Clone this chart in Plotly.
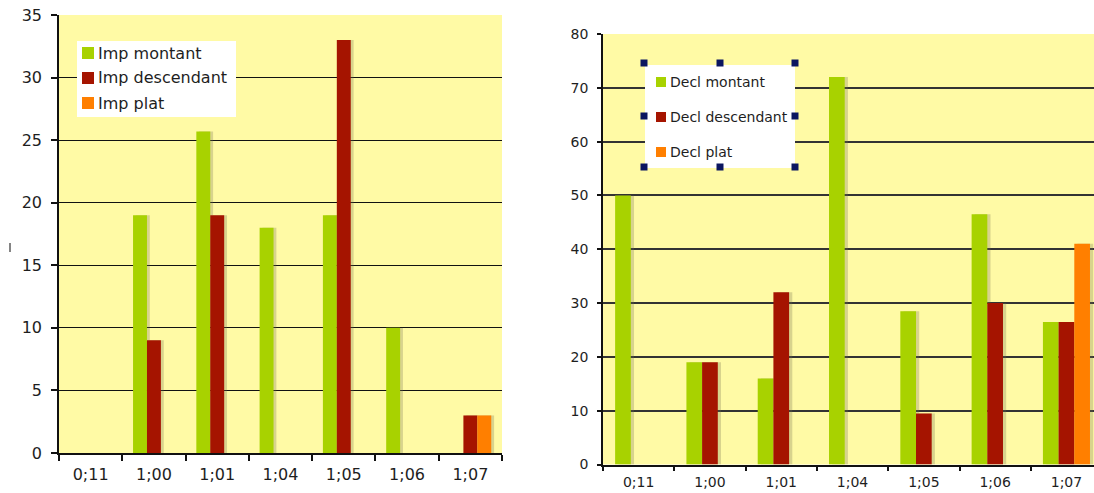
import plotly.graph_objects as go

# ---- data ----
categories = ["0;11", "1;00", "1;01", "1;04", "1;05", "1;06", "1;07"]

imp_names = ["Imp montant", "Imp descendant", "Imp plat"]
imp_montant = [0, 19, 25.7, 18, 19, 10, 0]
imp_descendant = [0, 9, 19, 0, 33, 0, 3]
imp_plat = [0, 0, 0, 0, 0, 0, 3]

decl_names = ["Decl montant", "Decl descendant", "Decl plat"]
decl_montant = [50, 19, 16, 72, 28.5, 46.5, 26.5]
decl_descendant = [0, 19, 32, 0, 9.5, 30, 26.5]
decl_plat = [0, 0, 0, 0, 0, 0, 41]

colors = ["#A8D200", "#A51400", "#FF7F00"]

# ---- page geometry (pixels) ----
W, H = 1094, 493


def px(x):
    return x / W


def py(y):
    return 1 - y / H


BAR_W = 0.22
OFFSETS = [-0.33, -0.11, 0.11]
SHADOW_SHIFT = 0.045

fig = go.Figure()


def add_group(series, xa, ya):
    # soft drop shadows first, then the bars themselves
    for vals, off in zip(series, OFFSETS):
        fig.add_trace(go.Bar(
            x=categories, y=vals, xaxis=xa, yaxis=ya,
            width=BAR_W, offset=off + SHADOW_SHIFT,
            marker=dict(color="rgba(115,110,80,0.28)", line=dict(width=0)),
            showlegend=False, hoverinfo="skip"))
    for vals, off, col in zip(series, OFFSETS, colors):
        fig.add_trace(go.Bar(
            x=categories, y=vals, xaxis=xa, yaxis=ya,
            width=BAR_W, offset=off,
            marker=dict(color=col, line=dict(width=0)),
            showlegend=False))


add_group([imp_montant, imp_descendant, imp_plat], "x", "y")
add_group([decl_montant, decl_descendant, decl_plat], "x2", "y2")

FONT = "DejaVu Sans, Verdana, sans-serif"
TXT = "#1e1e1e"
BG = "#FFFAA5"

common_x = dict(type="category", categoryorder="array", categoryarray=categories,
                showline=True, linecolor="#111", linewidth=1.5,
                ticks="outside", tickson="boundaries", tickcolor="#111",
                tickwidth=1.5, showgrid=False, zeroline=False, automargin=False)
common_y = dict(showline=True, linecolor="#111", linewidth=1.5,
                ticks="outside", tickcolor="#111", tickwidth=1.5,
                zeroline=False, automargin=False)

fig.update_layout(
    width=W, height=H,
    margin=dict(l=0, r=0, t=0, b=0, autoexpand=False),
    paper_bgcolor="white",
    barmode="overlay",
    showlegend=False,
    font=dict(family=FONT, color=TXT),
    xaxis=dict(common_x, domain=[px(59), px(502)], anchor="y",
               range=[-0.5, 6.5], ticklen=6, ticklabelstandoff=6,
               tickfont=dict(size=16, color=TXT)),
    yaxis=dict(common_y, domain=[py(453), py(15)], anchor="x",
               range=[0, 35], dtick=5, ticklen=6, ticklabelstandoff=6,
               showgrid=True, gridcolor="#111", gridwidth=1.3,
               tickfont=dict(size=16, color=TXT)),
    xaxis2=dict(common_x, domain=[px(603), 1.0], anchor="y2",
                range=[-0.5, -0.5 + (W - 603) / 71.3], ticklen=5,
                ticklabelstandoff=4,
                tickfont=dict(size=14, color=TXT)),
    yaxis2=dict(common_y, domain=[py(464.5), py(34)], anchor="x2",
                range=[0, 80], dtick=10, ticklen=4, ticklabelstandoff=6,
                showgrid=True, gridcolor="#333", gridwidth=1.5,
                tickfont=dict(size=14, color=TXT)),
    plot_bgcolor=BG,
)

shapes = []
annotations = []


def rect(x0, y0, x1, y1, color):
    shapes.append(dict(type="rect", xref="paper", yref="paper",
                       x0=px(x0), x1=px(x1), y0=py(y1), y1=py(y0),
                       fillcolor=color, line=dict(width=0), layer="above"))


def legend_box(box, names, sym_x, sym_size, text_x, rows, size):
    rect(*box, "white")
    for name, col, yc in zip(names, colors, rows):
        rect(sym_x, yc - sym_size / 2, sym_x + sym_size, yc + sym_size / 2, col)
        annotations.append(dict(
            text=name, xref="paper", yref="paper", x=px(text_x), y=py(yc),
            xanchor="left", yanchor="middle", showarrow=False,
            font=dict(size=size, color=TXT, family=FONT)))


legend_box((77, 41, 236, 117), imp_names, 82, 12, 96, [53, 78, 103], 16)
legend_box((645, 65, 795, 168), decl_names, 656, 10, 668, [82, 117, 152], 14)

# selection handles around the second legend
for hx in (644, 720, 795):
    for hy in (63, 116, 167):
        if hx == 720 and hy == 116:
            continue
        rect(hx - 3.5, hy - 3.5, hx + 3.5, hy + 3.5, "#0B1660")

# stray cursor mark at the far left
shapes.append(dict(type="line", xref="paper", yref="paper",
                   x0=px(10), x1=px(10), y0=py(252), y1=py(243),
                   line=dict(color="#333", width=1.2)))

fig.update_layout(shapes=shapes, annotations=annotations)

fig.write_html("out.html")
